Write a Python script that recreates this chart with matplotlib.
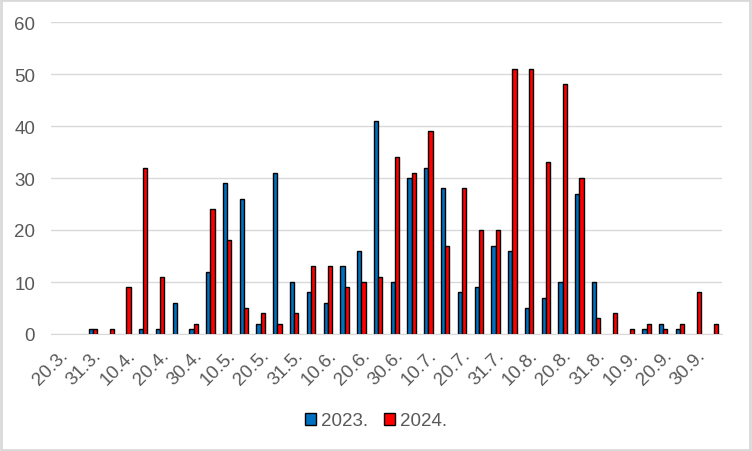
import matplotlib.pyplot as plt
from matplotlib.patches import Rectangle
import numpy as np

plt.rcParams['font.family'] = ['Liberation Sans', 'DejaVu Sans']

# categories (every other one gets a label on the axis)
dates = ['20.3.', '25.3.', '31.3.', '5.4.', '10.4.', '15.4.', '20.4.', '25.4.',
         '30.4.', '5.5.', '10.5.', '15.5.', '20.5.', '25.5.', '31.5.', '5.6.',
         '10.6.', '15.6.', '20.6.', '25.6.', '30.6.', '5.7.', '10.7.', '15.7.',
         '20.7.', '25.7.', '31.7.', '5.8.', '10.8.', '15.8.', '20.8.', '25.8.',
         '31.8.', '5.9.', '10.9.', '15.9.', '20.9.', '25.9.', '30.9.', '5.10.']

y2023 = [0, 0, 1, 0, 0, 1, 1, 6, 1, 12, 29, 26, 2, 31, 10, 8, 6, 13, 16, 41,
         10, 30, 32, 28, 8, 9, 17, 16, 5, 7, 10, 27, 10, 0, 0, 1, 2, 1, 0, 0]
y2024 = [0, 0, 1, 1, 9, 32, 11, 0, 2, 24, 18, 5, 4, 2, 4, 13, 13, 9, 10, 11,
         34, 31, 39, 17, 28, 20, 20, 51, 51, 33, 48, 30, 3, 4, 1, 2, 1, 2, 8, 2]

grey = '#595959'
line = '#D9D9D9'
fs = 13.5

fig = plt.figure(figsize=(7.52, 4.52), dpi=100)
ax = fig.add_axes([51 / 752, 1 - 335 / 452, 671 / 752, 312 / 452])

x = np.arange(len(dates))
w = 0.25
# zero values get no bar at all (no outline either)
b23 = np.array(y2023, dtype=float)
b24 = np.array(y2024, dtype=float)
b23[b23 == 0] = np.nan
b24[b24 == 0] = np.nan
ax.bar(x - w / 2, b23, w, color='#0070C0', edgecolor='black', linewidth=1, label='2023.', zorder=3)
ax.bar(x + w / 2, b24, w, color='#FF0000', edgecolor='black', linewidth=1, label='2024.', zorder=3)

ax.set_xlim(-0.5, len(dates) - 0.5)
ax.set_ylim(0, 60)
ax.set_yticks(range(0, 61, 10))
ax.yaxis.grid(True, color=line, linewidth=1, zorder=0)

ax.set_xticks(x[::2])
ax.set_xticklabels(dates[::2], rotation=45, ha='right', rotation_mode='anchor')
ax.tick_params(axis='both', length=0, labelsize=fs, labelcolor=grey)
ax.tick_params(axis='y', pad=11.5)
ax.tick_params(axis='x', pad=9)

for s in ['top', 'right', 'left']:
    ax.spines[s].set_visible(False)
ax.spines['bottom'].set_color(line)
ax.spines['bottom'].set_zorder(4)

fig.legend(loc='center', bbox_to_anchor=(0.5, 1 - 422 / 452), ncol=2, frameon=False,
           fontsize=fs, labelcolor=grey, handlelength=0.6, handleheight=0.6,
           handletextpad=0.3, columnspacing=0.8)

fig.patches.append(Rectangle((0.001, 0.002), 0.997, 0.996, transform=fig.transFigure,
                             fill=False, edgecolor=line, linewidth=2))

fig.savefig('out.png', dpi=100)
